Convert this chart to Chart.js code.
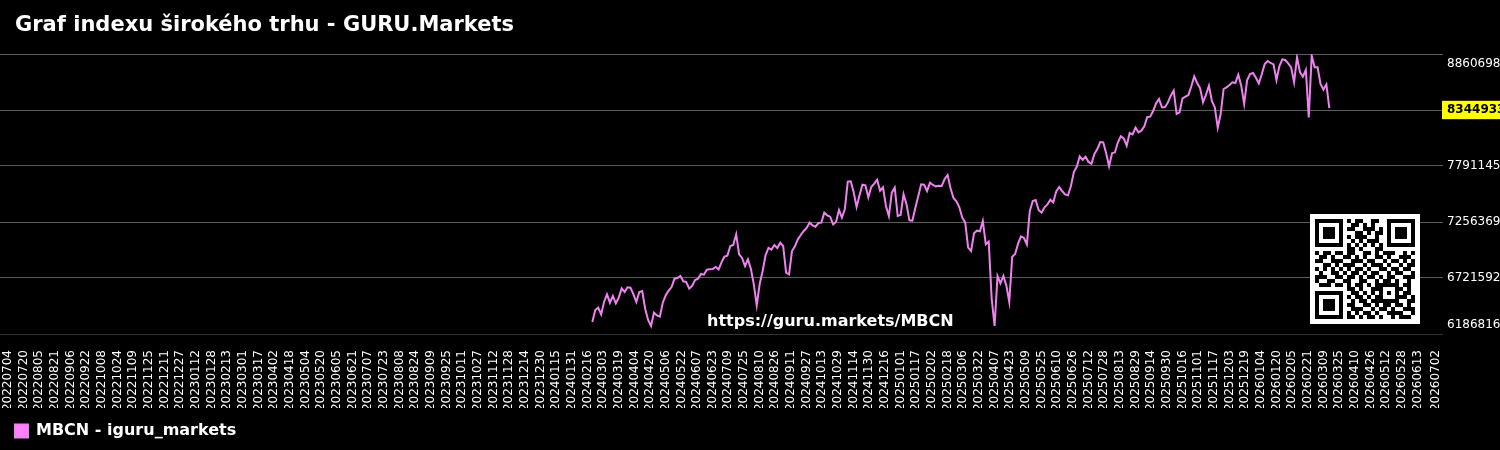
<!DOCTYPE html>
<html><head><meta charset="utf-8">
<script src="https://cdn.jsdelivr.net/npm/chart.js@4.4.0/dist/chart.umd.min.js"></script>
<style>
html,body{margin:0;padding:0;background:#000;overflow:hidden}
#wrap{position:relative;width:1500px;height:450px;background:#000}
#title{position:absolute;left:15px;top:12px;color:#fff;font:bold 21px 'DejaVu Sans',sans-serif;white-space:nowrap}
canvas{position:absolute;left:0;top:0}
</style></head><body>
<div id="wrap"><canvas id="c" width="1500" height="450"></canvas><div id="title">Graf indexu širokého trhu - GURU.Markets</div></div>
<script>
// ---- data ----
const axisStart = '2022-07-04';
const axisEnd = '2026-07-02';
const tickEveryDays = 16;
const seriesName = 'MBCN - iguru_markets';
const seriesStart = '2024-02-21';
const seriesStepDays = 3;
const seriesValues = [
6301400,6416000,6438300,6374600,6492400,6565600,6486000,6549700,6479700,6533800,
6622900,6587900,6632400,6629300,6565600,6492400,6587900,6597400,6428700,6320500,
6263200,6390500,6365100,6352300,6486000,6556100,6600600,6635600,6715200,6721600,
6740700,6689700,6683400,6619700,6645200,6702500,6715200,6759800,6753400,6801200,
6804300,6807500,6826600,6804300,6871200,6925300,6934900,7027200,7036700,7138600,
6947600,6912600,6836200,6899800,6810700,6661100,6460600,6664300,6788400,6938000,
7008100,6992200,7036700,7008100,7059000,7027200,6772500,6756600,6979400,7024000,
7090800,7132200,7170400,7199100,7250000,7224500,7211800,7246800,7250000,7345500,
7320000,7307300,7234100,7256400,7370900,7297700,7377300,7641500,7644700,7542800,
7399600,7511000,7612900,7606500,7491900,7590600,7622400,7660600,7555600,7587400,
7409200,7313600,7536500,7584200,7313600,7323200,7520600,7425100,7272300,7269100,
7390000,7501500,7616100,7612900,7552400,7632000,7609700,7597000,7603300,7600100,
7667000,7705200,7577900,7485500,7453700,7396400,7297700,7250000,7011300,6979400,
7148100,7173600,7167200,7265900,7043100,7068500,6527400,6263200,6740700,6670600,
6740700,6651500,6492400,6925300,6950800,7049400,7119500,7103600,7043100,7361400,
7456900,7466400,7370900,7345500,7396400,7425100,7469600,7444200,7549200,7590600,
7552400,7520600,7511000,7600100,7733800,7784800,7883500,7848500,7880300,7829400,
7813500,7905800,7953500,8020400,8017200,7912100,7788000,7912100,7921700,8017200,
8074500,8055400,7985400,8106300,8093600,8157200,8112700,8128600,8170000,8259100,
8262300,8316400,8389600,8431000,8351400,8351400,8396000,8462800,8510600,8287800,
8303700,8437400,8453300,8469200,8552000,8647500,8583800,8532900,8399200,8472400,
8558300,8411900,8351400,8157200,8287800,8526500,8542400,8564700,8590200,8583800,
8663400,8558300,8383200,8609300,8669700,8679300,8634700,8580600,8666600,8765200,
8793900,8774800,8762000,8612400,8746100,8809800,8803400,8771600,8733400,8590200,
8828900,8688800,8644300,8707900,8255900,8844800,8733400,8733400,8574200,8520100,
8571100,8344933
];
const lastValue = 8344933;
const yMin = 6186816;
const yMax = 8860698;
const yIntervals = 5;
const watermarkText = 'https://guru.markets/MBCN';
const qrRows = [
"1111111010110011001111111",
"1000001001101010001000001",
"1011101011001110101011101",
"1011101000110101101011101",
"1011101010111001001011101",
"1000001001010111001000001",
"1111111010101010101111111",
"0000000011010001100000000",
"1011011011001101011100101",
"0110100110101001101001110",
"1100111001110110010110101",
"0011010111001011101001011",
"1010101010110100110110110",
"0100110101101011001011001",
"1110011011010110101100111",
"1001100110011001011010010",
"0111011010110101111110110",
"0000000011010011100011010",
"1111111001101010101010110",
"1000001010110101100011101",
"1011101001011011111110011",
"1011101011001101011011010",
"1011101001110010110100111",
"1000001010101101001111001",
"1111111011010110100101110"
];

// ---- build categories ----
function parseD(s){ const [y,m,d]=s.split('-').map(Number); return Date.UTC(y,m-1,d); }
function fmt(t){ const d=new Date(t); return d.getUTCFullYear()+String(d.getUTCMonth()+1).padStart(2,'0')+String(d.getUTCDate()).padStart(2,'0'); }
const DAY = 86400000;
const dayLabels = [];
for (let t = parseD(axisStart); t <= parseD(axisEnd); t += DAY) dayLabels.push(fmt(t));
const s0 = parseD(seriesStart);
const points = seriesValues.map((v,k) => ({ x: fmt(s0 + k*seriesStepDays*DAY), y: v }));

Chart.defaults.font.family = "'DejaVu Sans', sans-serif";
Chart.defaults.font.size = 12;
Chart.defaults.color = '#ffffff';

const overlay = {
  id: 'overlay',
  afterDraw(chart) {
    const c = chart.ctx;
    c.save();
    c.font = "bold 16px 'DejaVu Sans', sans-serif";
    c.fillStyle = '#ffffff';
    c.textAlign = 'left';
    c.textBaseline = 'alphabetic';
    c.fillText(watermarkText, 707, 326);
    const m = 4, n = qrRows.length, size = 110, x0 = 1310, y0 = 214;
    const pad = (size - m*n)/2;
    c.fillStyle = '#ffffff';
    c.fillRect(x0, y0, size, size);
    c.fillStyle = '#000000';
    qrRows.forEach((row, r) => {
      for (let k = 0; k < row.length; k++) if (row[k] === '1') c.fillRect(x0+pad+k*m, y0+pad+r*m, m, m);
    });
    c.restore();
  }
};

const stepSize = (yMax - yMin) / yIntervals;
new Chart(document.getElementById('c'), {
  type: 'line',
  data: {
    labels: dayLabels,
    datasets: [{
      label: seriesName,
      data: points,
      borderColor: '#ee82ee',
      backgroundColor: '#ff80ff',
      borderWidth: 2,
      pointRadius: 0,
      tension: 0,
      fill: false,
      yAxisID: 'y'
    }]
  },
  options: {
    responsive: false,
    animation: false,
    layout: { padding: { top: 54, bottom: 1 } },
    plugins: {
      legend: {
        position: 'bottom', align: 'start',
        labels: { color: '#ffffff', font: { size: 16, weight: 'bold' }, boxWidth: 13, boxHeight: 13, padding: 15 }
      },
      tooltip: { enabled: false },
      title: { display: false }
    },
    scales: {
      x: {
        type: 'category',
        grid: { display: false },
        border: { display: false },
        ticks: {
          autoSkip: false, minRotation: 90, maxRotation: 90, padding: 8, color: '#ffffff',
          callback(v, i) {
            const n = dayLabels.length;
            return ((i % tickEveryDays === 0 && n - 1 - i >= tickEveryDays) || i === n - 1) ? dayLabels[i] : '';
          }
        },
        afterFit(s) { s.height = 74; }
      },
      y: {
        position: 'right', min: yMin, max: yMax,
        grid: { color: c => c.index === 0 ? '#333333' : '#5c5c5c', tickLength: 7 },
        border: { display: false },
        ticks: {
          stepSize: stepSize,
          padding: 4,
          color: c => c.index === 4 ? '#000000' : '#ffffff',
          font: c => c.index === 4 ? { size: 12, weight: 'bold' }
                   : (c.index === 0 ? { size: 12, lineHeight: 1.5 }
                   : (c.index === yIntervals ? { size: 12, lineHeight: 1.6 } : { size: 12 })),
          showLabelBackdrop: c => c.index === 4,
          backdropColor: '#ffff00',
          backdropPadding: { top: 2, bottom: 2, left: 5, right: 5 },
          callback: (v, i) => {
            if (i === 4) return String(lastValue);
            const s = String(Math.round(v));
            if (i === 0) return [s, ''];
            if (i === yIntervals) return ['', s];
            return s;
          }
        },
        afterFit(s) { s.width = 64; }
      },
      yl: {
        position: 'left', min: yMin, max: yMax,
        grid: { color: c => c.index === 0 ? '#333333' : '#5c5c5c', drawOnChartArea: false, tickLength: 8 },
        border: { display: false },
        ticks: { display: false, stepSize: stepSize }
      }
    }
  },
  plugins: [overlay]
});
</script>
</body></html>
